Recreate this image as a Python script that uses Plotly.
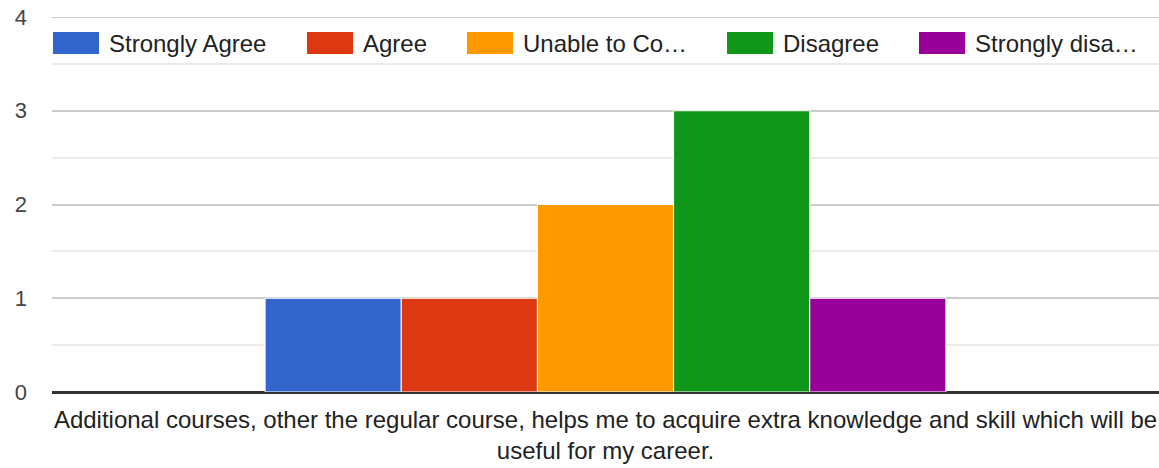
import plotly.graph_objects as go

categories = ["Additional courses, other the regular course, helps me to acquire extra knowledge and skill which will be<br>useful for my career."]
series_names = ["Strongly Agree", "Agree", "Unable to Co…", "Disagree", "Strongly disa…"]
series_values = [[1], [1], [2], [3], [1]]
colors = ["#3366cc", "#dc3912", "#ff9900", "#109618", "#990099"]
y_ticks = [0, 1, 2, 3, 4]

W, H = 1159, 468
L, R, T, B = 52, 0, 17, 76
pw = W - L - R
ph = H - T - B
FONT = "Liberation Sans, Arial, sans-serif"

fig = go.Figure()
for name, vals, c in zip(series_names, series_values, colors):
    fig.add_trace(go.Bar(x=categories, y=vals, name=name,
                         marker=dict(color=c, line=dict(color="white", width=1)),
                         showlegend=False, hoverinfo="y+name"))

# custom legend (swatch + label), positions given in screen pixels
leg_swatch_x = [53, 307, 467, 727, 919]
shapes = []
annotations = []
def px2x(p):
    return (p - L) / pw
def py2y(p):
    return (H - B - p) / ph
for sx, name, c in zip(leg_swatch_x, series_names, colors):
    shapes.append(dict(type="rect", xref="paper", yref="paper",
                       x0=px2x(sx), x1=px2x(sx + 46), y0=py2y(54), y1=py2y(32),
                       fillcolor=c, line=dict(width=0), layer="above"))
    annotations.append(dict(xref="paper", yref="paper", x=px2x(sx + 54), y=py2y(43),
                            text=name, showarrow=False, xanchor="left", yanchor="middle",
                            font=dict(family=FONT, size=24, color="#222222")))

# top gridline at y=4 (plotly drops grid lines lying on the plot edge)
shapes.append(dict(type="line", xref="paper", yref="y", x0=0, x1=1, y0=4, y1=4,
                   line=dict(color="#cccccc", width=2), layer="below"))

fig.update_layout(
    width=W, height=H,
    margin=dict(l=L, r=R, t=T, b=B, autoexpand=False),
    paper_bgcolor="white", plot_bgcolor="white",
    barmode="group", bargap=0.385, bargroupgap=0,
    font=dict(family=FONT, size=24, color="#222222"),
    shapes=shapes, annotations=annotations,
    xaxis=dict(showgrid=False, showline=False, ticks="", automargin=False,
               ticklabeloverflow="allow",
               tickfont=dict(family=FONT, size=24, color="#222222"), ticklabelstandoff=11),
    yaxis=dict(range=[0, 4], tickvals=y_ticks, showgrid=True, gridcolor="#cccccc", gridwidth=2,
               zeroline=True, zerolinecolor="#333333", zerolinewidth=3, automargin=False,
               ticklabeloverflow="allow",
               tickfont=dict(family=FONT, size=22, color="#444444"), ticklabelstandoff=24),
)
fig.update_yaxes(minor=dict(dtick=0.5, showgrid=True, gridcolor="#ebebeb", gridwidth=2))
fig.write_html("out.html", config={"displayModeBar": False},
               post_script="document.body.style.margin='0px';document.body.style.overflow='hidden';")
